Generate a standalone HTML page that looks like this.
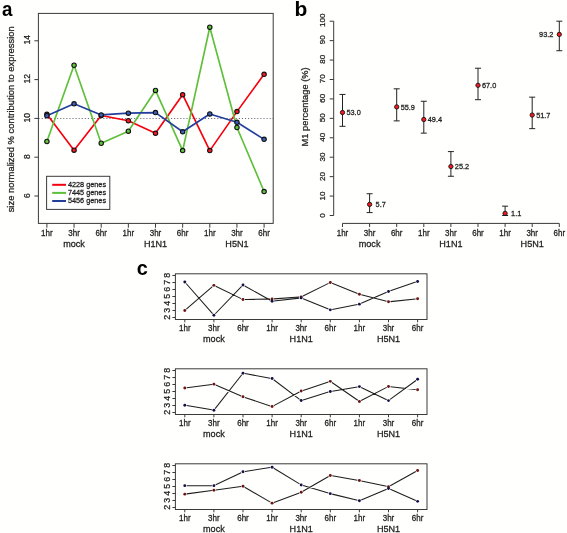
<!DOCTYPE html>
<html><head><meta charset="utf-8"><style>
html,body{margin:0;padding:0;background:#fffffd;}
svg{display:block;font-family:"Liberation Sans", sans-serif;will-change:transform;}
text{stroke:#1c1c1c;stroke-width:0.25px;}
text[font-weight]{stroke:none;}
</style></head><body>
<svg width="567" height="533" viewBox="0 0 567 533">
<rect width="567" height="533" fill="#fffffd"/>
<text transform="translate(2.1,15.6) scale(0.93,1)" font-size="20.2" font-weight="bold" fill="#000">a</text>
<line x1="38.6" y1="118.5" x2="273.2" y2="118.5" stroke="#6a6a7c" stroke-width="1.2" stroke-dasharray="1.1 1.98"/>
<rect x="38.4" y="13.4" width="234.8" height="210" fill="none" stroke="#3a3a3a" stroke-width="1"/>
<line x1="34.4" y1="196" x2="38.4" y2="196" stroke="#3a3a3a" stroke-width="1"/>
<text transform="translate(29.7,195.6) rotate(-90)" text-anchor="middle" font-size="8.5" fill="#1c1c1c">6</text>
<line x1="34.4" y1="157.2" x2="38.4" y2="157.2" stroke="#3a3a3a" stroke-width="1"/>
<text transform="translate(29.7,156.62) rotate(-90)" text-anchor="middle" font-size="8.5" fill="#1c1c1c">8</text>
<line x1="34.4" y1="118.4" x2="38.4" y2="118.4" stroke="#3a3a3a" stroke-width="1"/>
<text transform="translate(29.7,117.65) rotate(-90)" text-anchor="middle" font-size="8.5" fill="#1c1c1c">10</text>
<line x1="34.4" y1="79.6" x2="38.4" y2="79.6" stroke="#3a3a3a" stroke-width="1"/>
<text transform="translate(29.7,78.67) rotate(-90)" text-anchor="middle" font-size="8.5" fill="#1c1c1c">12</text>
<line x1="34.4" y1="40.8" x2="38.4" y2="40.8" stroke="#3a3a3a" stroke-width="1"/>
<text transform="translate(29.7,39.7) rotate(-90)" text-anchor="middle" font-size="8.5" fill="#1c1c1c">14</text>
<text transform="translate(14.1,119.3) rotate(-90)" text-anchor="middle" font-size="9.42" fill="#1c1c1c">size normalized % contribution to expression</text>
<line x1="46.9" y1="223.4" x2="46.9" y2="227.70000000000002" stroke="#3a3a3a" stroke-width="1"/>
<text transform="translate(46.9,235.9) scale(1,1.06)" text-anchor="middle" font-size="8.0" fill="#1c1c1c">1hr</text>
<line x1="74.05" y1="223.4" x2="74.05" y2="227.70000000000002" stroke="#3a3a3a" stroke-width="1"/>
<text transform="translate(74.05,235.9) scale(1,1.06)" text-anchor="middle" font-size="8.0" fill="#1c1c1c">3hr</text>
<line x1="101.2" y1="223.4" x2="101.2" y2="227.70000000000002" stroke="#3a3a3a" stroke-width="1"/>
<text transform="translate(101.2,235.9) scale(1,1.06)" text-anchor="middle" font-size="8.0" fill="#1c1c1c">6hr</text>
<line x1="128.35" y1="223.4" x2="128.35" y2="227.70000000000002" stroke="#3a3a3a" stroke-width="1"/>
<text transform="translate(128.35,235.9) scale(1,1.06)" text-anchor="middle" font-size="8.0" fill="#1c1c1c">1hr</text>
<line x1="155.5" y1="223.4" x2="155.5" y2="227.70000000000002" stroke="#3a3a3a" stroke-width="1"/>
<text transform="translate(155.5,235.9) scale(1,1.06)" text-anchor="middle" font-size="8.0" fill="#1c1c1c">3hr</text>
<line x1="182.65" y1="223.4" x2="182.65" y2="227.70000000000002" stroke="#3a3a3a" stroke-width="1"/>
<text transform="translate(182.65,235.9) scale(1,1.06)" text-anchor="middle" font-size="8.0" fill="#1c1c1c">6hr</text>
<line x1="209.8" y1="223.4" x2="209.8" y2="227.70000000000002" stroke="#3a3a3a" stroke-width="1"/>
<text transform="translate(209.8,235.9) scale(1,1.06)" text-anchor="middle" font-size="8.0" fill="#1c1c1c">1hr</text>
<line x1="236.95" y1="223.4" x2="236.95" y2="227.70000000000002" stroke="#3a3a3a" stroke-width="1"/>
<text transform="translate(236.95,235.9) scale(1,1.06)" text-anchor="middle" font-size="8.0" fill="#1c1c1c">3hr</text>
<line x1="264.1" y1="223.4" x2="264.1" y2="227.70000000000002" stroke="#3a3a3a" stroke-width="1"/>
<text transform="translate(264.1,235.9) scale(1,1.06)" text-anchor="middle" font-size="8.0" fill="#1c1c1c">6hr</text>
<text transform="translate(74.05,247.1) scale(1,1.06)" text-anchor="middle" font-size="9.1" fill="#1c1c1c">mock</text>
<text transform="translate(155.5,247.1) scale(1,1.06)" text-anchor="middle" font-size="9.1" fill="#1c1c1c">H1N1</text>
<text transform="translate(236.95,247.1) scale(1,1.06)" text-anchor="middle" font-size="9.1" fill="#1c1c1c">H5N1</text>
<rect x="46.6" y="176.3" width="63.2" height="33.1" fill="#fff" stroke="#3a3a3a" stroke-width="1"/>
<line x1="52.2" y1="184.8" x2="66" y2="184.8" stroke="#f5000f" stroke-width="2"/>
<text transform="translate(67.9,186.9) scale(1,1.06)" font-size="7.3" fill="#1c1c1c">4228 genes</text>
<line x1="52.2" y1="192.9" x2="66" y2="192.9" stroke="#5ebf3a" stroke-width="2"/>
<text transform="translate(67.9,195) scale(1,1.06)" font-size="7.3" fill="#1c1c1c">7445 genes</text>
<line x1="52.2" y1="201" x2="66" y2="201" stroke="#223f9c" stroke-width="2"/>
<text transform="translate(67.9,203.1) scale(1,1.06)" font-size="7.3" fill="#1c1c1c">5456 genes</text>
<polyline points="46.9,114.33 74.05,150.22 101.2,115.49 128.35,120.73 155.5,133.34 182.65,94.73 209.8,150.6 236.95,111.61 264.1,74.36" fill="none" stroke="#f5000f" stroke-width="1.65" stroke-linejoin="round"/>
<polyline points="46.9,141.49 74.05,65.24 101.2,143.23 128.35,131.2 155.5,90.46 182.65,150.6 209.8,27.22 236.95,127.52 264.1,191.54" fill="none" stroke="#5ebf3a" stroke-width="1.65" stroke-linejoin="round"/>
<polyline points="46.9,115.68 74.05,103.85 101.2,114.91 128.35,113.16 155.5,112.58 182.65,131.79 209.8,113.94 236.95,122.28 264.1,139.35" fill="none" stroke="#223f9c" stroke-width="1.65" stroke-linejoin="round"/>
<circle cx="46.9" cy="114.33" r="2.2" fill="#f81820" stroke="#111" stroke-width="1.1"/>
<circle cx="74.05" cy="150.22" r="2.2" fill="#f81820" stroke="#111" stroke-width="1.1"/>
<circle cx="101.2" cy="115.49" r="2.2" fill="#f81820" stroke="#111" stroke-width="1.1"/>
<circle cx="128.35" cy="120.73" r="2.2" fill="#f81820" stroke="#111" stroke-width="1.1"/>
<circle cx="155.5" cy="133.34" r="2.2" fill="#f81820" stroke="#111" stroke-width="1.1"/>
<circle cx="182.65" cy="94.73" r="2.2" fill="#f81820" stroke="#111" stroke-width="1.1"/>
<circle cx="209.8" cy="150.6" r="2.2" fill="#f81820" stroke="#111" stroke-width="1.1"/>
<circle cx="236.95" cy="111.61" r="2.2" fill="#f81820" stroke="#111" stroke-width="1.1"/>
<circle cx="264.1" cy="74.36" r="2.2" fill="#f81820" stroke="#111" stroke-width="1.1"/>
<circle cx="46.9" cy="141.49" r="2.2" fill="#5ec23c" stroke="#111" stroke-width="1.1"/>
<circle cx="74.05" cy="65.24" r="2.2" fill="#5ec23c" stroke="#111" stroke-width="1.1"/>
<circle cx="101.2" cy="143.23" r="2.2" fill="#5ec23c" stroke="#111" stroke-width="1.1"/>
<circle cx="128.35" cy="131.2" r="2.2" fill="#5ec23c" stroke="#111" stroke-width="1.1"/>
<circle cx="155.5" cy="90.46" r="2.2" fill="#5ec23c" stroke="#111" stroke-width="1.1"/>
<circle cx="182.65" cy="150.6" r="2.2" fill="#5ec23c" stroke="#111" stroke-width="1.1"/>
<circle cx="209.8" cy="27.22" r="2.2" fill="#5ec23c" stroke="#111" stroke-width="1.1"/>
<circle cx="236.95" cy="127.52" r="2.2" fill="#5ec23c" stroke="#111" stroke-width="1.1"/>
<circle cx="264.1" cy="191.54" r="2.2" fill="#5ec23c" stroke="#111" stroke-width="1.1"/>
<circle cx="46.9" cy="115.68" r="2.2" fill="#3c5fb5" stroke="#111" stroke-width="1.1"/>
<circle cx="74.05" cy="103.85" r="2.2" fill="#3c5fb5" stroke="#111" stroke-width="1.1"/>
<circle cx="101.2" cy="114.91" r="2.2" fill="#3c5fb5" stroke="#111" stroke-width="1.1"/>
<circle cx="128.35" cy="113.16" r="2.2" fill="#3c5fb5" stroke="#111" stroke-width="1.1"/>
<circle cx="155.5" cy="112.58" r="2.2" fill="#3c5fb5" stroke="#111" stroke-width="1.1"/>
<circle cx="182.65" cy="131.79" r="2.2" fill="#3c5fb5" stroke="#111" stroke-width="1.1"/>
<circle cx="209.8" cy="113.94" r="2.2" fill="#3c5fb5" stroke="#111" stroke-width="1.1"/>
<circle cx="236.95" cy="122.28" r="2.2" fill="#3c5fb5" stroke="#111" stroke-width="1.1"/>
<circle cx="264.1" cy="139.35" r="2.2" fill="#3c5fb5" stroke="#111" stroke-width="1.1"/>
<text transform="translate(294.4,15.9) scale(1.06,1)" font-size="19.8" font-weight="bold" fill="#000">b</text>
<line x1="333.7" y1="21.2" x2="333.7" y2="215.5" stroke="#3a3a3a" stroke-width="1"/>
<line x1="329.7" y1="215.5" x2="333.7" y2="215.5" stroke="#3a3a3a" stroke-width="1"/>
<text transform="translate(325.1,215.5) rotate(-90)" text-anchor="middle" font-size="8.05" fill="#1c1c1c">0</text>
<line x1="329.7" y1="196.07" x2="333.7" y2="196.07" stroke="#3a3a3a" stroke-width="1"/>
<text transform="translate(325.1,195.97) rotate(-90)" text-anchor="middle" font-size="8.05" fill="#1c1c1c">10</text>
<line x1="329.7" y1="176.64" x2="333.7" y2="176.64" stroke="#3a3a3a" stroke-width="1"/>
<text transform="translate(325.1,176.44) rotate(-90)" text-anchor="middle" font-size="8.05" fill="#1c1c1c">20</text>
<line x1="329.7" y1="157.21" x2="333.7" y2="157.21" stroke="#3a3a3a" stroke-width="1"/>
<text transform="translate(325.1,156.91) rotate(-90)" text-anchor="middle" font-size="8.05" fill="#1c1c1c">30</text>
<line x1="329.7" y1="137.78" x2="333.7" y2="137.78" stroke="#3a3a3a" stroke-width="1"/>
<text transform="translate(325.1,137.38) rotate(-90)" text-anchor="middle" font-size="8.05" fill="#1c1c1c">40</text>
<line x1="329.7" y1="118.35" x2="333.7" y2="118.35" stroke="#3a3a3a" stroke-width="1"/>
<text transform="translate(325.1,117.85) rotate(-90)" text-anchor="middle" font-size="8.05" fill="#1c1c1c">50</text>
<line x1="329.7" y1="98.92" x2="333.7" y2="98.92" stroke="#3a3a3a" stroke-width="1"/>
<text transform="translate(325.1,98.32) rotate(-90)" text-anchor="middle" font-size="8.05" fill="#1c1c1c">60</text>
<line x1="329.7" y1="79.49" x2="333.7" y2="79.49" stroke="#3a3a3a" stroke-width="1"/>
<text transform="translate(325.1,78.79) rotate(-90)" text-anchor="middle" font-size="8.05" fill="#1c1c1c">70</text>
<line x1="329.7" y1="60.06" x2="333.7" y2="60.06" stroke="#3a3a3a" stroke-width="1"/>
<text transform="translate(325.1,59.26) rotate(-90)" text-anchor="middle" font-size="8.05" fill="#1c1c1c">80</text>
<line x1="329.7" y1="40.63" x2="333.7" y2="40.63" stroke="#3a3a3a" stroke-width="1"/>
<text transform="translate(325.1,39.73) rotate(-90)" text-anchor="middle" font-size="8.05" fill="#1c1c1c">90</text>
<line x1="329.7" y1="21.2" x2="333.7" y2="21.2" stroke="#3a3a3a" stroke-width="1"/>
<text transform="translate(325.1,20.2) rotate(-90)" text-anchor="middle" font-size="8.05" fill="#1c1c1c">100</text>
<text transform="translate(308.3,106.9) rotate(-90)" text-anchor="middle" font-size="9.3" fill="#1c1c1c">M1 percentage (%)</text>
<line x1="342.5" y1="223.4" x2="559.3" y2="223.4" stroke="#3a3a3a" stroke-width="1"/>
<line x1="342.5" y1="223.4" x2="342.5" y2="227" stroke="#3a3a3a" stroke-width="1"/>
<text transform="translate(342.5,235.9) scale(1,1.06)" text-anchor="middle" font-size="8.0" fill="#1c1c1c">1hr</text>
<line x1="369.6" y1="223.4" x2="369.6" y2="227" stroke="#3a3a3a" stroke-width="1"/>
<text transform="translate(369.6,235.9) scale(1,1.06)" text-anchor="middle" font-size="8.0" fill="#1c1c1c">3hr</text>
<line x1="396.7" y1="223.4" x2="396.7" y2="227" stroke="#3a3a3a" stroke-width="1"/>
<text transform="translate(396.7,235.9) scale(1,1.06)" text-anchor="middle" font-size="8.0" fill="#1c1c1c">6hr</text>
<line x1="423.8" y1="223.4" x2="423.8" y2="227" stroke="#3a3a3a" stroke-width="1"/>
<text transform="translate(423.8,235.9) scale(1,1.06)" text-anchor="middle" font-size="8.0" fill="#1c1c1c">1hr</text>
<line x1="450.9" y1="223.4" x2="450.9" y2="227" stroke="#3a3a3a" stroke-width="1"/>
<text transform="translate(450.9,235.9) scale(1,1.06)" text-anchor="middle" font-size="8.0" fill="#1c1c1c">3hr</text>
<line x1="478" y1="223.4" x2="478" y2="227" stroke="#3a3a3a" stroke-width="1"/>
<text transform="translate(478,235.9) scale(1,1.06)" text-anchor="middle" font-size="8.0" fill="#1c1c1c">6hr</text>
<line x1="505.1" y1="223.4" x2="505.1" y2="227" stroke="#3a3a3a" stroke-width="1"/>
<text transform="translate(505.1,235.9) scale(1,1.06)" text-anchor="middle" font-size="8.0" fill="#1c1c1c">1hr</text>
<line x1="532.2" y1="223.4" x2="532.2" y2="227" stroke="#3a3a3a" stroke-width="1"/>
<text transform="translate(532.2,235.9) scale(1,1.06)" text-anchor="middle" font-size="8.0" fill="#1c1c1c">3hr</text>
<line x1="559.3" y1="223.4" x2="559.3" y2="227" stroke="#3a3a3a" stroke-width="1"/>
<text transform="translate(559.3,235.9) scale(1,1.06)" text-anchor="middle" font-size="8.0" fill="#1c1c1c">6hr</text>
<text transform="translate(369.6,247.1) scale(1,1.06)" text-anchor="middle" font-size="9.1" fill="#1c1c1c">mock</text>
<text transform="translate(450.9,247.1) scale(1,1.06)" text-anchor="middle" font-size="9.1" fill="#1c1c1c">H1N1</text>
<text transform="translate(532.2,247.1) scale(1,1.06)" text-anchor="middle" font-size="9.1" fill="#1c1c1c">H5N1</text>
<line x1="342.5" y1="94.45" x2="342.5" y2="126.32" stroke="#222" stroke-width="1"/>
<line x1="339.5" y1="94.45" x2="345.5" y2="94.45" stroke="#222" stroke-width="1"/>
<line x1="339.5" y1="126.32" x2="345.5" y2="126.32" stroke="#222" stroke-width="1"/>
<circle cx="342.5" cy="112.52" r="2.15" fill="#f41820" stroke="#111" stroke-width="0.9"/>
<text transform="translate(353.6,115.22) scale(1,1.06)" text-anchor="middle" font-size="7.35" fill="#1c1c1c">53.0</text>
<line x1="369.6" y1="193.74" x2="369.6" y2="212.59" stroke="#222" stroke-width="1"/>
<line x1="366.6" y1="193.74" x2="372.6" y2="193.74" stroke="#222" stroke-width="1"/>
<line x1="366.6" y1="212.59" x2="372.6" y2="212.59" stroke="#222" stroke-width="1"/>
<circle cx="369.6" cy="204.42" r="2.15" fill="#f41820" stroke="#111" stroke-width="0.9"/>
<text transform="translate(380.7,207.12) scale(1,1.06)" text-anchor="middle" font-size="7.35" fill="#1c1c1c">5.7</text>
<line x1="396.7" y1="88.82" x2="396.7" y2="120.88" stroke="#222" stroke-width="1"/>
<line x1="393.7" y1="88.82" x2="399.7" y2="88.82" stroke="#222" stroke-width="1"/>
<line x1="393.7" y1="120.88" x2="399.7" y2="120.88" stroke="#222" stroke-width="1"/>
<circle cx="396.7" cy="106.89" r="2.15" fill="#f41820" stroke="#111" stroke-width="0.9"/>
<text transform="translate(407.8,109.59) scale(1,1.06)" text-anchor="middle" font-size="7.35" fill="#1c1c1c">55.9</text>
<line x1="423.8" y1="101.25" x2="423.8" y2="133.12" stroke="#222" stroke-width="1"/>
<line x1="420.8" y1="101.25" x2="426.8" y2="101.25" stroke="#222" stroke-width="1"/>
<line x1="420.8" y1="133.12" x2="426.8" y2="133.12" stroke="#222" stroke-width="1"/>
<circle cx="423.8" cy="119.52" r="2.15" fill="#f41820" stroke="#111" stroke-width="0.9"/>
<text transform="translate(434.9,122.22) scale(1,1.06)" text-anchor="middle" font-size="7.35" fill="#1c1c1c">49.4</text>
<line x1="450.9" y1="151.58" x2="450.9" y2="176.25" stroke="#222" stroke-width="1"/>
<line x1="447.9" y1="151.58" x2="453.9" y2="151.58" stroke="#222" stroke-width="1"/>
<line x1="447.9" y1="176.25" x2="453.9" y2="176.25" stroke="#222" stroke-width="1"/>
<circle cx="450.9" cy="166.54" r="2.15" fill="#f41820" stroke="#111" stroke-width="0.9"/>
<text transform="translate(462,169.24) scale(1,1.06)" text-anchor="middle" font-size="7.35" fill="#1c1c1c">25.2</text>
<line x1="478" y1="68.22" x2="478" y2="99.7" stroke="#222" stroke-width="1"/>
<line x1="475" y1="68.22" x2="481" y2="68.22" stroke="#222" stroke-width="1"/>
<line x1="475" y1="99.7" x2="481" y2="99.7" stroke="#222" stroke-width="1"/>
<circle cx="478" cy="85.32" r="2.15" fill="#f41820" stroke="#111" stroke-width="0.9"/>
<text transform="translate(489.1,88.02) scale(1,1.06)" text-anchor="middle" font-size="7.35" fill="#1c1c1c">67.0</text>
<line x1="505.1" y1="206.17" x2="505.1" y2="215.5" stroke="#222" stroke-width="1"/>
<line x1="502.1" y1="206.17" x2="508.1" y2="206.17" stroke="#222" stroke-width="1"/>
<line x1="502.1" y1="215.5" x2="508.1" y2="215.5" stroke="#222" stroke-width="1"/>
<circle cx="505.1" cy="213.36" r="2.15" fill="#f41820" stroke="#111" stroke-width="0.9"/>
<text transform="translate(516.2,216.06) scale(1,1.06)" text-anchor="middle" font-size="7.35" fill="#1c1c1c">1.1</text>
<line x1="532.2" y1="97.17" x2="532.2" y2="128.65" stroke="#222" stroke-width="1"/>
<line x1="529.2" y1="97.17" x2="535.2" y2="97.17" stroke="#222" stroke-width="1"/>
<line x1="529.2" y1="128.65" x2="535.2" y2="128.65" stroke="#222" stroke-width="1"/>
<circle cx="532.2" cy="115.05" r="2.15" fill="#f41820" stroke="#111" stroke-width="0.9"/>
<text transform="translate(543.3,117.75) scale(1,1.06)" text-anchor="middle" font-size="7.35" fill="#1c1c1c">51.7</text>
<line x1="559.3" y1="21.2" x2="559.3" y2="50.73" stroke="#222" stroke-width="1"/>
<line x1="556.3" y1="21.2" x2="562.3" y2="21.2" stroke="#222" stroke-width="1"/>
<line x1="556.3" y1="50.73" x2="562.3" y2="50.73" stroke="#222" stroke-width="1"/>
<circle cx="559.3" cy="34.41" r="2.15" fill="#f41820" stroke="#111" stroke-width="0.9"/>
<text transform="translate(546.25,37.11) scale(1,1.06)" text-anchor="middle" font-size="7.35" fill="#1c1c1c">93.2</text>
<text x="136.8" y="275.3" font-size="19.9" font-weight="bold" fill="#000">c</text>
<rect x="175.4" y="273.8" width="251.6" height="45.7" fill="none" stroke="#3a3a3a" stroke-width="1"/>
<line x1="172.4" y1="317.5" x2="175.4" y2="317.5" stroke="#3a3a3a" stroke-width="1"/>
<text transform="translate(170.2,317.2) rotate(-90)" text-anchor="middle" font-size="8.9" fill="#1c1c1c">2</text>
<line x1="172.4" y1="310.5" x2="175.4" y2="310.5" stroke="#3a3a3a" stroke-width="1"/>
<text transform="translate(170.2,310.2) rotate(-90)" text-anchor="middle" font-size="8.9" fill="#1c1c1c">3</text>
<line x1="172.4" y1="303.5" x2="175.4" y2="303.5" stroke="#3a3a3a" stroke-width="1"/>
<text transform="translate(170.2,303.2) rotate(-90)" text-anchor="middle" font-size="8.9" fill="#1c1c1c">4</text>
<line x1="172.4" y1="296.5" x2="175.4" y2="296.5" stroke="#3a3a3a" stroke-width="1"/>
<text transform="translate(170.2,296.2) rotate(-90)" text-anchor="middle" font-size="8.9" fill="#1c1c1c">5</text>
<line x1="172.4" y1="289.5" x2="175.4" y2="289.5" stroke="#3a3a3a" stroke-width="1"/>
<text transform="translate(170.2,289.2) rotate(-90)" text-anchor="middle" font-size="8.9" fill="#1c1c1c">6</text>
<line x1="172.4" y1="282.5" x2="175.4" y2="282.5" stroke="#3a3a3a" stroke-width="1"/>
<text transform="translate(170.2,282.2) rotate(-90)" text-anchor="middle" font-size="8.9" fill="#1c1c1c">7</text>
<line x1="172.4" y1="275.5" x2="175.4" y2="275.5" stroke="#3a3a3a" stroke-width="1"/>
<text transform="translate(170.2,275.2) rotate(-90)" text-anchor="middle" font-size="8.9" fill="#1c1c1c">8</text>
<line x1="184.8" y1="319.5" x2="184.8" y2="322.3" stroke="#3a3a3a" stroke-width="1"/>
<text transform="translate(184.8,330.9) scale(1,1.06)" text-anchor="middle" font-size="8.0" fill="#1c1c1c">1hr</text>
<line x1="213.9" y1="319.5" x2="213.9" y2="322.3" stroke="#3a3a3a" stroke-width="1"/>
<text transform="translate(213.9,330.9) scale(1,1.06)" text-anchor="middle" font-size="8.0" fill="#1c1c1c">3hr</text>
<line x1="243" y1="319.5" x2="243" y2="322.3" stroke="#3a3a3a" stroke-width="1"/>
<text transform="translate(243,330.9) scale(1,1.06)" text-anchor="middle" font-size="8.0" fill="#1c1c1c">6hr</text>
<line x1="272.1" y1="319.5" x2="272.1" y2="322.3" stroke="#3a3a3a" stroke-width="1"/>
<text transform="translate(272.1,330.9) scale(1,1.06)" text-anchor="middle" font-size="8.0" fill="#1c1c1c">1hr</text>
<line x1="301.2" y1="319.5" x2="301.2" y2="322.3" stroke="#3a3a3a" stroke-width="1"/>
<text transform="translate(301.2,330.9) scale(1,1.06)" text-anchor="middle" font-size="8.0" fill="#1c1c1c">3hr</text>
<line x1="330.3" y1="319.5" x2="330.3" y2="322.3" stroke="#3a3a3a" stroke-width="1"/>
<text transform="translate(330.3,330.9) scale(1,1.06)" text-anchor="middle" font-size="8.0" fill="#1c1c1c">6hr</text>
<line x1="359.4" y1="319.5" x2="359.4" y2="322.3" stroke="#3a3a3a" stroke-width="1"/>
<text transform="translate(359.4,330.9) scale(1,1.06)" text-anchor="middle" font-size="8.0" fill="#1c1c1c">1hr</text>
<line x1="388.5" y1="319.5" x2="388.5" y2="322.3" stroke="#3a3a3a" stroke-width="1"/>
<text transform="translate(388.5,330.9) scale(1,1.06)" text-anchor="middle" font-size="8.0" fill="#1c1c1c">3hr</text>
<line x1="417.6" y1="319.5" x2="417.6" y2="322.3" stroke="#3a3a3a" stroke-width="1"/>
<text transform="translate(417.6,330.9) scale(1,1.06)" text-anchor="middle" font-size="8.0" fill="#1c1c1c">6hr</text>
<text transform="translate(213.9,341.6) scale(1,1.06)" text-anchor="middle" font-size="9.1" fill="#1c1c1c">mock</text>
<text transform="translate(301.2,341.6) scale(1,1.06)" text-anchor="middle" font-size="9.1" fill="#1c1c1c">H1N1</text>
<text transform="translate(388.5,341.6) scale(1,1.06)" text-anchor="middle" font-size="9.1" fill="#1c1c1c">H5N1</text>
<path d="M186.31 309.19L212.39 286.68M215.7 286.24L241.2 298.64M245 299.48L270.1 299.05M274.09 298.87L299.21 297M302.99 295.97L328.51 283.38M332.15 283.25L357.55 293.51M361.34 294.76L386.56 301.32M390.49 301.61L415.61 299.02M186.12 283.51L212.58 313.69M215.29 313.75L241.61 286.46M244.75 285.99L270.35 300.22M274.09 300.97L299.21 298.12M303.05 298.66L328.45 309.11M332.26 309.48L357.44 304.52M361.23 303.33L386.67 292.26M390.39 290.81L415.71 282.1" fill="none" stroke="#1e1e1e" stroke-width="1.05"/>
<circle cx="184.8" cy="310.5" r="1.45" fill="#6a1414"/>
<circle cx="213.9" cy="285.37" r="1.45" fill="#6a1414"/>
<circle cx="243" cy="299.51" r="1.45" fill="#6a1414"/>
<circle cx="272.1" cy="299.02" r="1.45" fill="#6a1414"/>
<circle cx="301.2" cy="296.85" r="1.45" fill="#6a1414"/>
<circle cx="330.3" cy="282.5" r="1.45" fill="#6a1414"/>
<circle cx="359.4" cy="294.26" r="1.45" fill="#6a1414"/>
<circle cx="388.5" cy="301.82" r="1.45" fill="#6a1414"/>
<circle cx="417.6" cy="298.81" r="1.45" fill="#6a1414"/>
<circle cx="184.8" cy="282.01" r="1.45" fill="#10104a"/>
<circle cx="213.9" cy="315.19" r="1.45" fill="#10104a"/>
<circle cx="243" cy="285.02" r="1.45" fill="#10104a"/>
<circle cx="272.1" cy="301.19" r="1.45" fill="#10104a"/>
<circle cx="301.2" cy="297.9" r="1.45" fill="#10104a"/>
<circle cx="330.3" cy="309.87" r="1.45" fill="#10104a"/>
<circle cx="359.4" cy="304.13" r="1.45" fill="#10104a"/>
<circle cx="388.5" cy="291.46" r="1.45" fill="#10104a"/>
<circle cx="417.6" cy="281.45" r="1.45" fill="#10104a"/>
<rect x="175.4" y="368.8" width="251.6" height="45.7" fill="none" stroke="#3a3a3a" stroke-width="1"/>
<line x1="172.4" y1="412.5" x2="175.4" y2="412.5" stroke="#3a3a3a" stroke-width="1"/>
<text transform="translate(170.2,412.2) rotate(-90)" text-anchor="middle" font-size="8.9" fill="#1c1c1c">2</text>
<line x1="172.4" y1="405.5" x2="175.4" y2="405.5" stroke="#3a3a3a" stroke-width="1"/>
<text transform="translate(170.2,405.2) rotate(-90)" text-anchor="middle" font-size="8.9" fill="#1c1c1c">3</text>
<line x1="172.4" y1="398.5" x2="175.4" y2="398.5" stroke="#3a3a3a" stroke-width="1"/>
<text transform="translate(170.2,398.2) rotate(-90)" text-anchor="middle" font-size="8.9" fill="#1c1c1c">4</text>
<line x1="172.4" y1="391.5" x2="175.4" y2="391.5" stroke="#3a3a3a" stroke-width="1"/>
<text transform="translate(170.2,391.2) rotate(-90)" text-anchor="middle" font-size="8.9" fill="#1c1c1c">5</text>
<line x1="172.4" y1="384.5" x2="175.4" y2="384.5" stroke="#3a3a3a" stroke-width="1"/>
<text transform="translate(170.2,384.2) rotate(-90)" text-anchor="middle" font-size="8.9" fill="#1c1c1c">6</text>
<line x1="172.4" y1="377.5" x2="175.4" y2="377.5" stroke="#3a3a3a" stroke-width="1"/>
<text transform="translate(170.2,377.2) rotate(-90)" text-anchor="middle" font-size="8.9" fill="#1c1c1c">7</text>
<line x1="172.4" y1="370.5" x2="175.4" y2="370.5" stroke="#3a3a3a" stroke-width="1"/>
<text transform="translate(170.2,370.2) rotate(-90)" text-anchor="middle" font-size="8.9" fill="#1c1c1c">8</text>
<line x1="184.8" y1="414.5" x2="184.8" y2="417.3" stroke="#3a3a3a" stroke-width="1"/>
<text transform="translate(184.8,425.9) scale(1,1.06)" text-anchor="middle" font-size="8.0" fill="#1c1c1c">1hr</text>
<line x1="213.9" y1="414.5" x2="213.9" y2="417.3" stroke="#3a3a3a" stroke-width="1"/>
<text transform="translate(213.9,425.9) scale(1,1.06)" text-anchor="middle" font-size="8.0" fill="#1c1c1c">3hr</text>
<line x1="243" y1="414.5" x2="243" y2="417.3" stroke="#3a3a3a" stroke-width="1"/>
<text transform="translate(243,425.9) scale(1,1.06)" text-anchor="middle" font-size="8.0" fill="#1c1c1c">6hr</text>
<line x1="272.1" y1="414.5" x2="272.1" y2="417.3" stroke="#3a3a3a" stroke-width="1"/>
<text transform="translate(272.1,425.9) scale(1,1.06)" text-anchor="middle" font-size="8.0" fill="#1c1c1c">1hr</text>
<line x1="301.2" y1="414.5" x2="301.2" y2="417.3" stroke="#3a3a3a" stroke-width="1"/>
<text transform="translate(301.2,425.9) scale(1,1.06)" text-anchor="middle" font-size="8.0" fill="#1c1c1c">3hr</text>
<line x1="330.3" y1="414.5" x2="330.3" y2="417.3" stroke="#3a3a3a" stroke-width="1"/>
<text transform="translate(330.3,425.9) scale(1,1.06)" text-anchor="middle" font-size="8.0" fill="#1c1c1c">6hr</text>
<line x1="359.4" y1="414.5" x2="359.4" y2="417.3" stroke="#3a3a3a" stroke-width="1"/>
<text transform="translate(359.4,425.9) scale(1,1.06)" text-anchor="middle" font-size="8.0" fill="#1c1c1c">1hr</text>
<line x1="388.5" y1="414.5" x2="388.5" y2="417.3" stroke="#3a3a3a" stroke-width="1"/>
<text transform="translate(388.5,425.9) scale(1,1.06)" text-anchor="middle" font-size="8.0" fill="#1c1c1c">3hr</text>
<line x1="417.6" y1="414.5" x2="417.6" y2="417.3" stroke="#3a3a3a" stroke-width="1"/>
<text transform="translate(417.6,425.9) scale(1,1.06)" text-anchor="middle" font-size="8.0" fill="#1c1c1c">6hr</text>
<text transform="translate(213.9,436.6) scale(1,1.06)" text-anchor="middle" font-size="9.1" fill="#1c1c1c">mock</text>
<text transform="translate(301.2,436.6) scale(1,1.06)" text-anchor="middle" font-size="9.1" fill="#1c1c1c">H1N1</text>
<text transform="translate(388.5,436.6) scale(1,1.06)" text-anchor="middle" font-size="9.1" fill="#1c1c1c">H5N1</text>
<path d="M186.78 387.8L211.92 384.42M215.73 384.95L241.17 396.02M244.9 397.45L270.2 405.92M273.86 405.61L299.44 391.95M303.1 390.38L328.4 381.98M331.95 382.49L357.75 400.3M361.18 400.52L386.72 387.38M390.49 386.68L415.61 389.53M186.77 405.56L211.93 409.85M215.14 408.62L241.76 374.8M244.97 373.59L270.13 378.19M273.7 379.76L299.6 399.32M303.11 399.94L328.39 392.09M332.27 391.17L357.43 386.93M361.2 387.47L386.7 399.73M390.11 399.42L415.99 380.5" fill="none" stroke="#1e1e1e" stroke-width="1.05"/>
<circle cx="184.8" cy="388.07" r="1.45" fill="#6a1414"/>
<circle cx="213.9" cy="384.15" r="1.45" fill="#6a1414"/>
<circle cx="243" cy="396.82" r="1.45" fill="#6a1414"/>
<circle cx="272.1" cy="406.55" r="1.45" fill="#6a1414"/>
<circle cx="301.2" cy="391.01" r="1.45" fill="#6a1414"/>
<circle cx="330.3" cy="381.35" r="1.45" fill="#6a1414"/>
<circle cx="359.4" cy="401.44" r="1.45" fill="#6a1414"/>
<circle cx="388.5" cy="386.46" r="1.45" fill="#6a1414"/>
<circle cx="417.6" cy="389.75" r="1.45" fill="#6a1414"/>
<circle cx="184.8" cy="405.22" r="1.45" fill="#10104a"/>
<circle cx="213.9" cy="410.19" r="1.45" fill="#10104a"/>
<circle cx="243" cy="373.23" r="1.45" fill="#10104a"/>
<circle cx="272.1" cy="378.55" r="1.45" fill="#10104a"/>
<circle cx="301.2" cy="400.53" r="1.45" fill="#10104a"/>
<circle cx="330.3" cy="391.5" r="1.45" fill="#10104a"/>
<circle cx="359.4" cy="386.6" r="1.45" fill="#10104a"/>
<circle cx="388.5" cy="400.6" r="1.45" fill="#10104a"/>
<circle cx="417.6" cy="379.32" r="1.45" fill="#10104a"/>
<rect x="175.4" y="463.8" width="251.6" height="45.7" fill="none" stroke="#3a3a3a" stroke-width="1"/>
<line x1="172.4" y1="507.5" x2="175.4" y2="507.5" stroke="#3a3a3a" stroke-width="1"/>
<text transform="translate(170.2,507.2) rotate(-90)" text-anchor="middle" font-size="8.9" fill="#1c1c1c">2</text>
<line x1="172.4" y1="500.5" x2="175.4" y2="500.5" stroke="#3a3a3a" stroke-width="1"/>
<text transform="translate(170.2,500.2) rotate(-90)" text-anchor="middle" font-size="8.9" fill="#1c1c1c">3</text>
<line x1="172.4" y1="493.5" x2="175.4" y2="493.5" stroke="#3a3a3a" stroke-width="1"/>
<text transform="translate(170.2,493.2) rotate(-90)" text-anchor="middle" font-size="8.9" fill="#1c1c1c">4</text>
<line x1="172.4" y1="486.5" x2="175.4" y2="486.5" stroke="#3a3a3a" stroke-width="1"/>
<text transform="translate(170.2,486.2) rotate(-90)" text-anchor="middle" font-size="8.9" fill="#1c1c1c">5</text>
<line x1="172.4" y1="479.5" x2="175.4" y2="479.5" stroke="#3a3a3a" stroke-width="1"/>
<text transform="translate(170.2,479.2) rotate(-90)" text-anchor="middle" font-size="8.9" fill="#1c1c1c">6</text>
<line x1="172.4" y1="472.5" x2="175.4" y2="472.5" stroke="#3a3a3a" stroke-width="1"/>
<text transform="translate(170.2,472.2) rotate(-90)" text-anchor="middle" font-size="8.9" fill="#1c1c1c">7</text>
<line x1="172.4" y1="465.5" x2="175.4" y2="465.5" stroke="#3a3a3a" stroke-width="1"/>
<text transform="translate(170.2,465.2) rotate(-90)" text-anchor="middle" font-size="8.9" fill="#1c1c1c">8</text>
<line x1="184.8" y1="509.5" x2="184.8" y2="512.3" stroke="#3a3a3a" stroke-width="1"/>
<text transform="translate(184.8,520.9) scale(1,1.06)" text-anchor="middle" font-size="8.0" fill="#1c1c1c">1hr</text>
<line x1="213.9" y1="509.5" x2="213.9" y2="512.3" stroke="#3a3a3a" stroke-width="1"/>
<text transform="translate(213.9,520.9) scale(1,1.06)" text-anchor="middle" font-size="8.0" fill="#1c1c1c">3hr</text>
<line x1="243" y1="509.5" x2="243" y2="512.3" stroke="#3a3a3a" stroke-width="1"/>
<text transform="translate(243,520.9) scale(1,1.06)" text-anchor="middle" font-size="8.0" fill="#1c1c1c">6hr</text>
<line x1="272.1" y1="509.5" x2="272.1" y2="512.3" stroke="#3a3a3a" stroke-width="1"/>
<text transform="translate(272.1,520.9) scale(1,1.06)" text-anchor="middle" font-size="8.0" fill="#1c1c1c">1hr</text>
<line x1="301.2" y1="509.5" x2="301.2" y2="512.3" stroke="#3a3a3a" stroke-width="1"/>
<text transform="translate(301.2,520.9) scale(1,1.06)" text-anchor="middle" font-size="8.0" fill="#1c1c1c">3hr</text>
<line x1="330.3" y1="509.5" x2="330.3" y2="512.3" stroke="#3a3a3a" stroke-width="1"/>
<text transform="translate(330.3,520.9) scale(1,1.06)" text-anchor="middle" font-size="8.0" fill="#1c1c1c">6hr</text>
<line x1="359.4" y1="509.5" x2="359.4" y2="512.3" stroke="#3a3a3a" stroke-width="1"/>
<text transform="translate(359.4,520.9) scale(1,1.06)" text-anchor="middle" font-size="8.0" fill="#1c1c1c">1hr</text>
<line x1="388.5" y1="509.5" x2="388.5" y2="512.3" stroke="#3a3a3a" stroke-width="1"/>
<text transform="translate(388.5,520.9) scale(1,1.06)" text-anchor="middle" font-size="8.0" fill="#1c1c1c">3hr</text>
<line x1="417.6" y1="509.5" x2="417.6" y2="512.3" stroke="#3a3a3a" stroke-width="1"/>
<text transform="translate(417.6,520.9) scale(1,1.06)" text-anchor="middle" font-size="8.0" fill="#1c1c1c">6hr</text>
<text transform="translate(213.9,531.6) scale(1,1.06)" text-anchor="middle" font-size="9.1" fill="#1c1c1c">mock</text>
<text transform="translate(301.2,531.6) scale(1,1.06)" text-anchor="middle" font-size="9.1" fill="#1c1c1c">H1N1</text>
<text transform="translate(388.5,531.6) scale(1,1.06)" text-anchor="middle" font-size="9.1" fill="#1c1c1c">H5N1</text>
<path d="M186.78 493.87L211.92 490.54M215.88 490L241.02 486.5M244.73 487.23L270.37 502.15M273.97 502.46L299.33 492.94M302.93 491.24L328.57 476.51M332.27 475.85L357.43 480.21M361.36 480.96L386.54 486.3M390.25 485.74L415.85 471.44M186.8 485.66L211.9 485.66M215.71 484.8L241.19 472.66M244.98 471.49L270.12 467.56M273.81 468.29L299.49 483.92M303.12 485.53L328.38 493.07M332.24 494.12L357.46 500.3M361.24 500L386.66 489.31M390.33 489.34L415.77 500.53" fill="none" stroke="#1e1e1e" stroke-width="1.05"/>
<circle cx="184.8" cy="494.13" r="1.45" fill="#6a1414"/>
<circle cx="213.9" cy="490.28" r="1.45" fill="#6a1414"/>
<circle cx="243" cy="486.22" r="1.45" fill="#6a1414"/>
<circle cx="272.1" cy="503.16" r="1.45" fill="#6a1414"/>
<circle cx="301.2" cy="492.24" r="1.45" fill="#6a1414"/>
<circle cx="330.3" cy="475.51" r="1.45" fill="#6a1414"/>
<circle cx="359.4" cy="480.55" r="1.45" fill="#6a1414"/>
<circle cx="388.5" cy="486.71" r="1.45" fill="#6a1414"/>
<circle cx="417.6" cy="470.47" r="1.45" fill="#6a1414"/>
<circle cx="184.8" cy="485.66" r="1.45" fill="#10104a"/>
<circle cx="213.9" cy="485.66" r="1.45" fill="#10104a"/>
<circle cx="243" cy="471.8" r="1.45" fill="#10104a"/>
<circle cx="272.1" cy="467.25" r="1.45" fill="#10104a"/>
<circle cx="301.2" cy="484.96" r="1.45" fill="#10104a"/>
<circle cx="330.3" cy="493.64" r="1.45" fill="#10104a"/>
<circle cx="359.4" cy="500.78" r="1.45" fill="#10104a"/>
<circle cx="388.5" cy="488.53" r="1.45" fill="#10104a"/>
<circle cx="417.6" cy="501.34" r="1.45" fill="#10104a"/>
</svg>
</body></html>
